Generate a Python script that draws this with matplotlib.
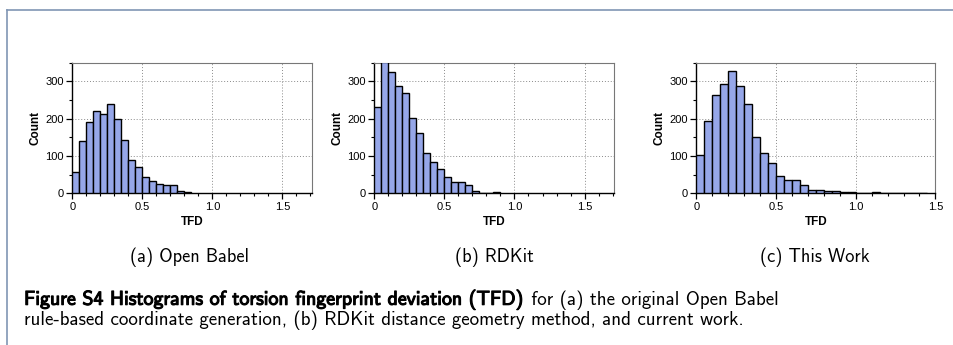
import numpy as np
import matplotlib
matplotlib.use("Agg")
import matplotlib.pyplot as plt
from matplotlib.lines import Line2D
from matplotlib.ticker import MultipleLocator
import matplotlib.patheffects as pe

# ---- data (counts per 0.05-wide TFD bin, starting at 0) ----
bin_width = 0.05
counts_openbabel = [56, 140, 190, 220, 213, 239, 200, 144, 89, 70, 44, 32, 24, 23, 21, 5, 3]
counts_rdkit = [231, 352, 325, 287, 269, 201, 161, 109, 85, 65, 43, 29, 29, 21, 5, 2, 2, 3]
counts_thiswork = [103, 194, 263, 293, 327, 287, 240, 152, 109, 81, 46, 35, 35, 23, 8, 10, 7,
                   5, 4, 4, 1, 2, 3, 2, 2, 0, 0, 1, 1]
panel_titles = ["(a) Open Babel", "(b) RDKit", "(c) This Work"]
xlims = [1.71, 1.71, 1.5]
xlabel = "TFD"
ylabel = "Count"
caption_bold = "Figure S4 Histograms of torsion fingerprint deviation (TFD)"
caption_rest1 = " for (a) the original Open Babel"
caption_line2 = "rule-based coordinate generation, (b) RDKit distance geometry method, and current work."

W, H = 954, 345
fig = plt.figure(figsize=(W / 100, H / 100), dpi=100)
fig.patch.set_facecolor("white")

# frame border (left and top edges only visible)
border_color = "#8096b4"
fig.add_artist(Line2D([7.5 / W, 7.5 / W], [-0.1, 1 - 10 / H], transform=fig.transFigure,
                      color=border_color, linewidth=1.2))
fig.add_artist(Line2D([7.5 / W, 1.1], [1 - 10 / H, 1 - 10 / H], transform=fig.transFigure,
                      color=border_color, linewidth=1.2))

bar_color = "#96a7e9"
tick_font = "Liberation Sans"

rects = [(72.3, 239.4), (374.3, 239.7), (696.3, 239.1)]
top_px, bot_px = 62.7, 193.3

all_counts = [counts_openbabel, counts_rdkit, counts_thiswork]
centers_px = [190, 494, 815]

for i, (counts, (lpx, wpx)) in enumerate(zip(all_counts, rects)):
    ax = fig.add_axes([lpx / W, 1 - bot_px / H, wpx / W, (bot_px - top_px) / H])
    lefts = np.arange(len(counts)) * bin_width
    ax.bar(lefts, counts, width=bin_width, align="edge", color=bar_color,
           edgecolor="black", linewidth=1.0, zorder=3)
    ax.set_xlim(0, xlims[i])
    ax.set_ylim(0, 350)
    ax.xaxis.set_major_locator(MultipleLocator(0.5))
    ax.xaxis.set_minor_locator(MultipleLocator(0.1))
    ax.yaxis.set_major_locator(MultipleLocator(100))
    ax.yaxis.set_minor_locator(MultipleLocator(50))
    ax.set_xticks([0, 0.5, 1.0, 1.5])
    ax.set_xticklabels(["0", "0.5", "1.0", "1.5"])
    ax.grid(True, which="major", linestyle=(0, (1, 2)), color="#8a8a8a", linewidth=0.7, zorder=0)
    ax.set_axisbelow(True)
    for s in ["top", "right"]:
        ax.spines[s].set_color("#777777")
        ax.spines[s].set_linewidth(0.8)
    for s in ["left", "bottom"]:
        ax.spines[s].set_color("black")
        ax.spines[s].set_linewidth(1.0)
    ax.tick_params(which="major", direction="out", length=4, width=0.9, labelsize=8,
                   pad=2)
    ax.tick_params(which="minor", direction="out", length=2.5, width=0.8)
    for lab in ax.get_xticklabels() + ax.get_yticklabels():
        lab.set_fontfamily(tick_font)
    ax.set_xlabel(xlabel, fontsize=8.5, fontweight="bold", family=tick_font, labelpad=3)
    ax.set_ylabel(ylabel, fontsize=8.5, fontweight="bold", family=tick_font, labelpad=3)
    fig.text(centers_px[i] / W, 1 - 257 / H, panel_titles[i], ha="center", va="center",
             fontsize=13.2, family="cmss10")

# caption
t1 = fig.text(24 / W, 1 - 300 / H, caption_bold, ha="left", va="center",
              fontsize=14.3, family="cmss10",
              path_effects=[pe.withStroke(linewidth=0.8, foreground="black")])
fig.canvas.draw()
bb = t1.get_window_extent()
fig.text(bb.x1 / W, 1 - 300 / H, caption_rest1, ha="left", va="center",
         fontsize=13.7, family="cmss10")
fig.text(24 / W, 1 - 320 / H, caption_line2, ha="left", va="center",
         fontsize=13.7, family="cmss10")

fig.savefig("out.png", dpi=100)
